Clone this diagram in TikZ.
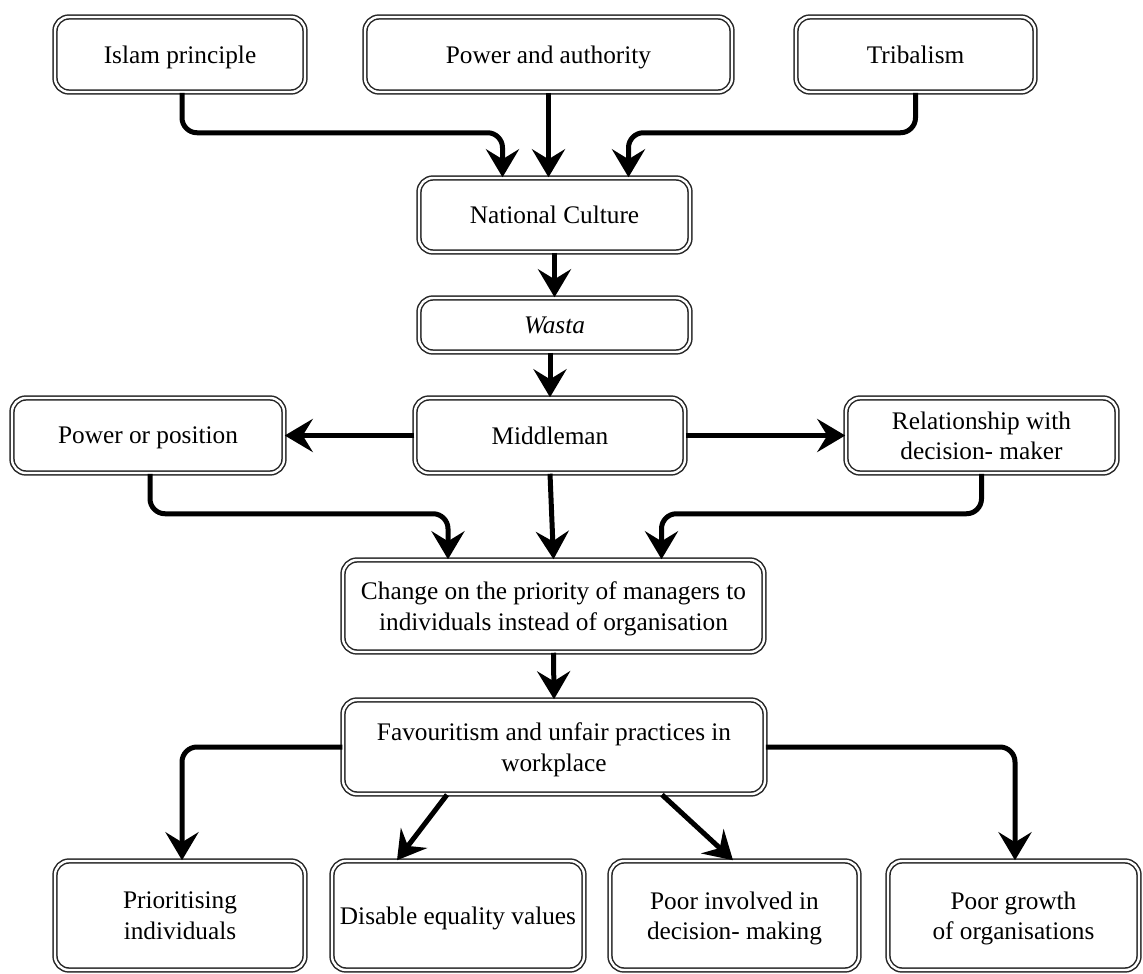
\documentclass[tikz,border=0pt]{standalone}
\usepackage{fontspec}
\setmainfont{Liberation Serif}
\usetikzlibrary{arrows.meta}

\tikzset{
  box/.style={draw=black!85, double=white, double distance=2.4pt, line width=1.5pt,
    rounded corners=14pt, align=center, inner sep=2pt, text depth=0pt,
    font=\fontsize{25.3}{30.5}\selectfont},
  arr/.style={line width=5pt, rounded corners=15pt,
    -{Stealth[length=28pt, width=33pt, inset=10pt]}},
}

\begin{document}
\begin{tikzpicture}[x=1pt, y=-1pt]
\useasboundingbox (0,0) rectangle (1143,974);

% top row of sources
\node[box, minimum width=250pt, minimum height=75pt] (isl) at (180,54.5) {Islam principle};
\node[box, minimum width=367pt, minimum height=75pt] (pwr) at (548.5,54.5) {Power and authority};
\node[box, minimum width=239pt, minimum height=75pt] (tri) at (915.5,54.5) {Tribalism};

% central chain
\node[box, minimum width=271pt, minimum height=74pt] (nc) at (554.5,215) {National Culture};
\node[box, minimum width=271pt, minimum height=54pt] (was) at (554.5,325) {\itshape Wasta};
\node[box, minimum width=270pt, minimum height=75pt] (mid) at (550,435.5) {Middleman};
\node[box, minimum width=272pt, minimum height=75pt] (pop) at (148,435.5) {Power or position};
\node[box, minimum width=271pt, minimum height=75pt] (rel) at (981.5,435.5) {Relationship with\\decision- maker};
\node[box, minimum width=421pt, minimum height=92pt] (chg) at (553.5,606) {Change on the priority of managers to\\individuals instead of organisation};
\node[box, minimum width=422pt, minimum height=94pt] (fav) at (554,747) {Favouritism and unfair practices in\\workplace};

% outcomes
\node[box, minimum width=250pt, minimum height=109pt] (pri) at (180,915.5) {Prioritising\\individuals};
\node[box, minimum width=252pt, minimum height=109pt] (dis) at (458,915.5) {Disable equality values};
\node[box, minimum width=249pt, minimum height=109pt] (inv) at (734.5,915.5) {Poor involved in\\decision- making};
\node[box, minimum width=251pt, minimum height=109pt] (grw) at (1013.5,915.5) {Poor growth\\of organisations};

% connectors into National Culture
\draw[arr] ([xshift=2pt]isl.south) -- ++(0,40) -| ([xshift=-52pt]nc.north);
\draw[arr] (pwr.south) -- (nc.north -| pwr.south);
\draw[arr] (tri.south) -- ++(0,40) -| ([xshift=74pt]nc.north);

\draw[arr] (nc.south) -- (was.north);
\draw[arr] (was.south -| mid.north) -- (mid.north);
\draw[arr] (mid.west) -- (pop.east);
\draw[arr] (mid.east) -- (rel.west);

% connectors into the change box
\draw[arr] ([xshift=2pt]pop.south) -- ++(0,40) -| ([xshift=-105.5pt]chg.north);
\draw[arr] (mid.south) -- (chg.north);
\draw[arr] (rel.south) -- ++(0,40) -| ([xshift=108pt]chg.north);

\draw[arr] (chg.south) -- (fav.north);

% outcomes of favouritism
\draw[arr] (fav.west) -| ([xshift=2pt]pri.north);
\draw[arr] ([xshift=-107pt]fav.south) -- ([xshift=-61pt]dis.north);
\draw[arr] ([xshift=108pt]fav.south) -- ([xshift=-1.5pt]inv.north);
\draw[arr] (fav.east) -| ([xshift=1.5pt]grw.north);
\end{tikzpicture}
\end{document}
